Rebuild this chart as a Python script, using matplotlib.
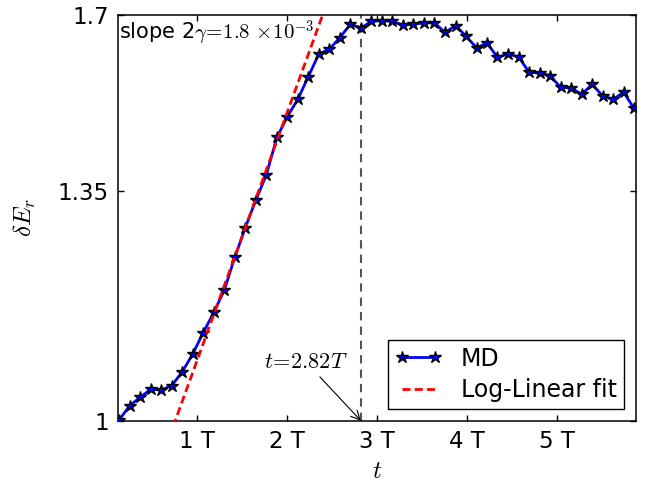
import numpy as np
import matplotlib
matplotlib.use('Agg')
import matplotlib.pyplot as plt
from matplotlib.ticker import NullLocator

plt.rcParams['mathtext.fontset'] = 'cm'
plt.rcParams['font.family'] = 'DejaVu Sans'

# time in units of T
t_T = [0.132, 0.249, 0.366, 0.483, 0.600, 0.717, 0.833, 0.950, 1.067, 1.184,
       1.301, 1.418, 1.535, 1.652, 1.769, 1.886, 2.002, 2.119, 2.236, 2.353,
       2.470, 2.587, 2.704, 2.821, 2.938, 3.055, 3.171, 3.288, 3.405, 3.522,
       3.639, 3.756, 3.873, 3.990, 4.107, 4.224, 4.340, 4.457, 4.574, 4.691,
       4.808, 4.925, 5.042, 5.159, 5.276, 5.393, 5.509, 5.626, 5.743, 5.860]
dE = [1.001, 1.020, 1.031, 1.042, 1.041, 1.047, 1.066, 1.091, 1.122, 1.152,
      1.186, 1.238, 1.287, 1.334, 1.379, 1.448, 1.488, 1.522, 1.568, 1.615,
      1.625, 1.650, 1.679, 1.671, 1.685, 1.687, 1.685, 1.677, 1.679, 1.682,
      1.682, 1.661, 1.676, 1.653, 1.628, 1.638, 1.608, 1.615, 1.609, 1.577,
      1.575, 1.570, 1.546, 1.545, 1.532, 1.552, 1.529, 1.522, 1.536, 1.504]

fit_rate = 0.3234   # growth rate per T on log scale
fit_t0 = 0.755      # time where the fit equals 1
t_peak = 2.82

xticks = [1, 2, 3, 4, 5]
xtick_labels = ['1 T', '2 T', '3 T', '4 T', '5 T']
yticks = [1, 1.35, 1.7]
ytick_labels = ['1', '1.35', '1.7']

fig = plt.figure(figsize=(6.51, 4.87), dpi=100)
ax = fig.add_axes([0.1817, 0.1361, 0.7949, 0.8337])

ax.plot(t_T, dE, '-', color='blue', lw=2, marker='*', ms=9, mfc='blue',
        mec='black', mew=1, label='MD', zorder=3)
tf = np.linspace(0.5, 2.7, 200)
ax.plot(tf, np.exp(fit_rate * (tf - fit_t0)), '--', color='red', lw=2,
        dashes=(2.9, 1.5), label='Log-Linear fit', zorder=4)
ax.axvline(t_peak, color='#555555', lw=1.5, ls='--', dashes=(4, 2.9), zorder=2)

ax.set_yscale('log')
ax.set_xlim(0.122, 5.878)
ax.set_ylim(1, 1.7)
ax.set_xticks(xticks)
ax.set_xticklabels(xtick_labels)
ax.set_yticks(yticks)
ax.set_yticklabels(ytick_labels)
ax.yaxis.set_minor_locator(NullLocator())
ax.xaxis.set_minor_locator(NullLocator())
ax.tick_params(direction='in', top=True, right=True, length=4.5, width=1,
               labelsize=16.5, pad=7)
for s in ax.spines.values():
    s.set_linewidth(1.1)

ax.set_xlabel(r'$t$', fontsize=18, labelpad=4)
ax.set_ylabel(r'$\delta E_r$', fontsize=18, labelpad=14)

ax.text(0.002, 0.955, r'slope 2$\gamma\!=\!1.8\,\times\!10^{-3}$', transform=ax.transAxes,
        ha='left', va='center', fontsize=15)

ax.annotate(r'$t\!=\!2.82T$', xy=(t_peak, 1.0), xytext=(2.21, 1.0797),
            ha='center', va='center', fontsize=16,
            arrowprops=dict(arrowstyle='->', color='black', lw=0.8, shrinkA=2, shrinkB=0))

leg = ax.legend(loc='lower right', fontsize=17, numpoints=2, fancybox=False,
                edgecolor='black', framealpha=1, handlelength=2.0,
                handletextpad=0.8, labelspacing=0.3, borderpad=0.3,
                borderaxespad=0.5)
leg.get_frame().set_linewidth(1.0)

fig.savefig('out.png', dpi=100)
